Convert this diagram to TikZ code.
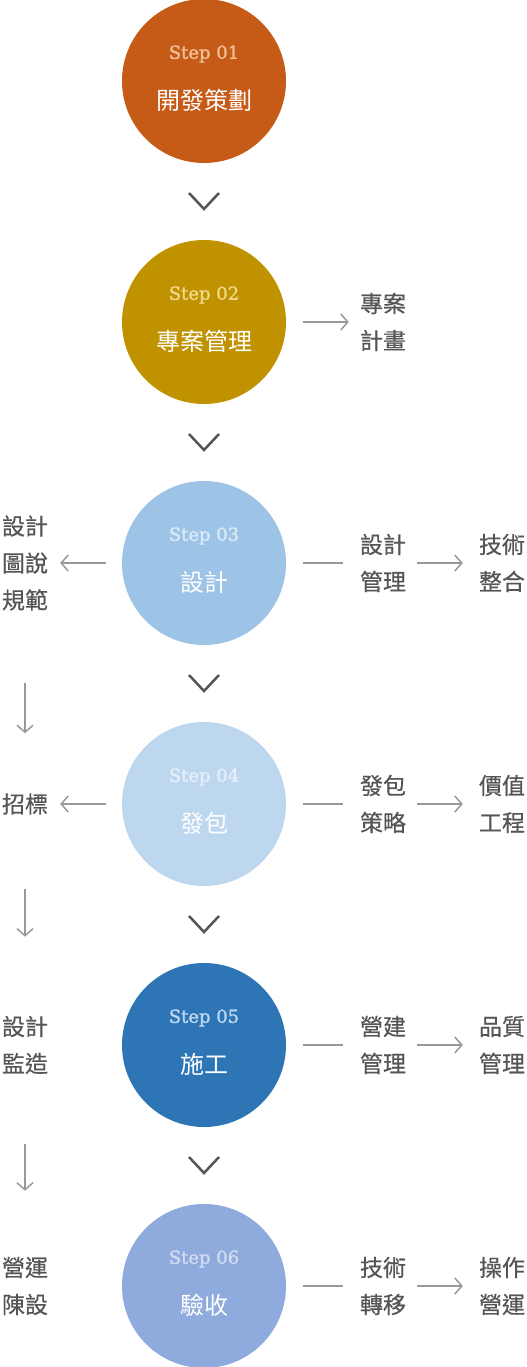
\documentclass[tikz,border=0pt]{standalone}
\usepackage{fontspec}
\usetikzlibrary{arrows.meta}
\newfontfamily\cjkfont{Noto Sans CJK TC}
\newfontfamily\cjksidefont[FakeBold=0.5]{Noto Sans CJK TC}
\newfontfamily\stepfont[FakeBold=1.5]{DejaVu Serif}

\definecolor{fillA}{RGB}{198,90,23}
\definecolor{fillB}{RGB}{192,146,0}
\definecolor{fillC}{RGB}{157,195,230}
\definecolor{fillD}{RGB}{189,215,238}
\definecolor{fillE}{RGB}{46,117,182}
\definecolor{fillF}{RGB}{143,170,220}
\definecolor{tintA}{RGB}{242,192,152}
\definecolor{tintB}{RGB}{240,216,140}
\definecolor{tintC}{RGB}{220,234,248}
\definecolor{tintD}{RGB}{228,240,250}
\definecolor{tintE}{RGB}{189,215,238}
\definecolor{tintF}{RGB}{208,220,242}
\definecolor{sidegray}{RGB}{85,85,85}
\definecolor{linegray}{RGB}{153,153,153}
\definecolor{chevgray}{RGB}{85,85,85}

\tikzset{
  stepcirc/.style={circle,minimum size=164pt,inner sep=0pt},
  steplabel/.style={font=\stepfont\fontsize{18}{18}\selectfont,inner sep=0pt},
  steptitle/.style={font=\cjkfont\fontsize{24}{24}\selectfont,text=white,inner sep=0pt},
  sidetext/.style={font=\cjksidefont\fontsize{23}{37}\selectfont,text=sidegray,align=center,inner sep=0pt},
  conn/.style={draw=linegray,line width=1.5pt,-{Straight Barb[length=7pt,width=16pt]}},
  plainconn/.style={draw=linegray,line width=1.5pt},
  chev/.style={draw=chevgray,line width=2.5pt,line join=miter}
}

\begin{document}
\begin{tikzpicture}[x=1pt,y=-1pt]
\useasboundingbox (0,0) rectangle (527,1367);

%Shape: Circle
\node [stepcirc,fill=fillA] (s1) at (204,81) {};
% Text Node
\node [steplabel,text=tintA] (s1step) at (204,54) {Step 01};
% Text Node
\node [steptitle] (s1name) at (204,100) {開發策劃};

%Shape: Chevron
\draw [chev] (189,193) -- (204,209) -- (219,193);

%Shape: Circle
\node [stepcirc,fill=fillB] (s2) at (204,322) {};
% Text Node
\node [steplabel,text=tintB] (s2step) at (204,295) {Step 02};
% Text Node
\node [steptitle] (s2name) at (204,341) {專案管理};
% Text Node
\node [sidetext] (r2) at (383,322) {專案\\計畫};
%Straight Lines
\draw [conn] ([xshift=17pt]s2.east) -- ([xshift=-11pt]r2.west);

%Shape: Chevron
\draw [chev] (189,434) -- (204,450) -- (219,434);

%Shape: Circle
\node [stepcirc,fill=fillC] (s3) at (204,563) {};
% Text Node
\node [steplabel,text=tintC] (s3step) at (204,536) {Step 03};
% Text Node
\node [steptitle] (s3name) at (204,582) {設計};
% Text Node
\node [sidetext] (l3) at (25,563) {設計\\圖說\\規範};
% Text Node
\node [sidetext] (m3) at (383,563) {設計\\管理};
% Text Node
\node [sidetext] (t3) at (502,563) {技術\\整合};
%Straight Lines
\draw [conn] ([xshift=-16pt]s3.west) -- ([xshift=12pt]l3.east);
\draw [plainconn] ([xshift=17pt]s3.east) -- ([xshift=-17pt]m3.west);
\draw [conn] ([xshift=11pt]m3.east) -- ([xshift=-16pt]t3.west);

%Shape: Chevron
\draw [chev] (189,675) -- (204,691) -- (219,675);

%Shape: Circle
\node [stepcirc,fill=fillD] (s4) at (204,804) {};
% Text Node
\node [steplabel,text=tintD] (s4step) at (204,777) {Step 04};
% Text Node
\node [steptitle] (s4name) at (204,823) {發包};
% Text Node
\node [sidetext] (l4) at (25,804) {招標};
% Text Node
\node [sidetext] (m4) at (383,804) {發包\\策略};
% Text Node
\node [sidetext] (t4) at (502,804) {價值\\工程};
%Straight Lines
\draw [conn] ([xshift=-16pt]s4.west) -- ([xshift=12pt]l4.east);
\draw [plainconn] ([xshift=17pt]s4.east) -- ([xshift=-17pt]m4.west);
\draw [conn] ([xshift=11pt]m4.east) -- ([xshift=-16pt]t4.west);
\draw [conn] ([yshift=-72pt]l3.south) -- ([yshift=60pt]l4.north);

%Shape: Chevron
\draw [chev] (189,916) -- (204,932) -- (219,916);

%Shape: Circle
\node [stepcirc,fill=fillE] (s5) at (204,1045) {};
% Text Node
\node [steplabel,text=tintE] (s5step) at (204,1018) {Step 05};
% Text Node
\node [steptitle] (s5name) at (204,1064) {施工};
% Text Node
\node [sidetext] (l5) at (25,1045) {設計\\監造};
% Text Node
\node [sidetext] (m5) at (383,1045) {營建\\管理};
% Text Node
\node [sidetext] (t5) at (502,1045) {品質\\管理};
%Straight Lines
\draw [plainconn] ([xshift=17pt]s5.east) -- ([xshift=-17pt]m5.west);
\draw [conn] ([xshift=11pt]m5.east) -- ([xshift=-16pt]t5.west);
\draw [conn] ([yshift=-74pt]l4.south) -- ([yshift=79pt]l5.north);

%Shape: Chevron
\draw [chev] (189,1157) -- (204,1173) -- (219,1157);

%Shape: Circle
\node [stepcirc,fill=fillF] (s6) at (204,1286) {};
% Text Node
\node [steplabel,text=tintF] (s6step) at (204,1259) {Step 06};
% Text Node
\node [steptitle] (s6name) at (204,1305) {驗收};
% Text Node
\node [sidetext] (l6) at (25,1286) {營運\\陳設};
% Text Node
\node [sidetext] (m6) at (383,1286) {技術\\轉移};
% Text Node
\node [sidetext] (t6) at (502,1286) {操作\\營運};
%Straight Lines
\draw [plainconn] ([xshift=17pt]s6.east) -- ([xshift=-17pt]m6.west);
\draw [conn] ([xshift=11pt]m6.east) -- ([xshift=-16pt]t6.west);
\draw [conn] ([yshift=-70pt]l5.south) -- ([yshift=66pt]l6.north);

\end{tikzpicture}
\end{document}
